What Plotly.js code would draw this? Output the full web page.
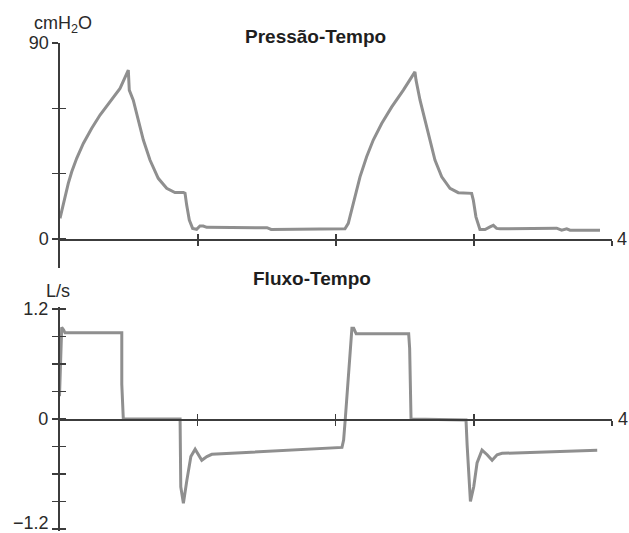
<!DOCTYPE html>
<html>
<head>
<meta charset="utf-8">
<script src="https://cdn.plot.ly/plotly-3.0.1.min.js"></script>
<style>html,body{margin:0;padding:0;background:#fff;}#chart{width:629px;height:533px;}</style>
</head>
<body>
<div id="chart"></div>
<script>
// Pressure-time (cmH2O) vs time (s)
var presTime = [0, 0.019, 0.036, 0.060, 0.085, 0.121, 0.169, 0.230, 0.290, 0.362, 0.435, 0.495,
  0.502, 0.531, 0.567, 0.604, 0.652, 0.712, 0.773, 0.833, 0.894, 0.906, 0.918, 0.937, 0.961, 0.990,
  1.014, 1.038, 1.063, 1.256, 1.500, 1.530, 1.884, 2.065,
  2.089, 2.114, 2.138, 2.174, 2.222, 2.270, 2.331, 2.404, 2.488, 2.572,
  2.580, 2.609, 2.645, 2.681, 2.717, 2.766, 2.826, 2.886, 2.983, 2.995, 3.014, 3.043, 3.080,
  3.116, 3.140, 3.164, 3.188, 3.599, 3.635, 3.672, 3.696, 3.913];
var presVal = [9.5, 14.8, 19.4, 25.6, 30.9, 37.1, 43.9, 50.9, 57.0, 63.0, 69.2, 77.6,
  68.4, 63.8, 54.6, 45.5, 36.3, 27.9, 23.3, 21.4, 21.4, 21.0, 15.6, 8.7, 4.9, 4.5,
  6.0, 6.0, 5.4, 5.4, 5.2, 4.4, 4.4, 4.7,
  7.2, 13.3, 19.4, 28.6, 37.8, 45.5, 53.1, 60.7, 68.4, 76.8,
  73.0, 63.8, 54.6, 45.5, 36.3, 28.6, 23.3, 21.3, 21.0, 17.9, 10.2, 4.4, 4.4,
  5.6, 6.3, 4.9, 4.7, 5.0, 4.1, 4.7, 4.1, 4.1];

// Flow-time (L/s) vs time (s)
var flowTime = [0, 0.016, 0.030, 0.040, 0.451, 0.451, 0.462, 0.873,
  0.878, 0.897, 0.922, 0.951, 0.982, 1.006, 1.030, 1.067, 1.103, 2.045, 2.057, 2.069,
  2.105, 2.117, 2.130, 2.148, 2.528, 2.535, 2.545, 2.943,
  2.951, 2.963, 2.975, 2.999, 3.023, 3.059, 3.096, 3.132, 3.168, 3.204, 3.893];
var flowVal = [0.25, 1.0, 0.97, 0.94, 0.94, 0.38, 0.0, 0.0,
  -0.74, -0.92, -0.67, -0.41, -0.33, -0.39, -0.45, -0.41, -0.385, -0.31, -0.23, 0.0,
  0.79, 0.99, 0.99, 0.93, 0.93, 0.77, 0.0, -0.01,
  -0.28, -0.63, -0.90, -0.74, -0.48, -0.34, -0.39, -0.45, -0.39, -0.375, -0.34];

// Axis ticks and labels
var timeTicks = [1, 2, 3, 4];
var presLabelVals = [0, 90];
var presLabelText = ['0', '90'];
var presMinorStep = 30;
var flowLabelVals = [0, 1.2];
var flowLabelText = ['0', '1.2'];
var flowLowVals = [-1.2];
var flowLowText = ['\u22121.2'];
var flowMinorStep = 0.3;
var titles = ['Pressão-Tempo', 'Fluxo-Tempo'];
var units = ['cmH<sub>2</sub>O', 'L/s'];
var endLabel = '4';

var W = 629, H = 533;
function px(x) { return x / W; }
function py(y) { return 1 - y / H; }

var lineCol = '#8f8f8f';
var axCol = '#3c3c3c';
var font = {family: 'Liberation Sans, Arial, sans-serif', size: 18, color: '#2a2a2a'};

var presRange = [-13.3, 90.3];
var presDom = [py(268), py(42.5)];
var flowRange = [-1.22, 1.22];
var flowDom = [py(530.8), py(307.2)];
var xDomTop = [px(60), px(612)];
var xDomBot = [px(59.5), px(612)];
function zeroPos(dom, rng) { return dom[0] + (0 - rng[0]) / (rng[1] - rng[0]) * (dom[1] - dom[0]); }
var topZero = zeroPos(presDom, presRange);
var botZero = zeroPos(flowDom, flowRange);

var traces = [
  {x: presTime, y: presVal, xaxis: 'x', yaxis: 'y', mode: 'lines', line: {color: lineCol, width: 3}, hoverinfo: 'skip'},
  {x: flowTime, y: flowVal, xaxis: 'x2', yaxis: 'y2', mode: 'lines', line: {color: lineCol, width: 3}, hoverinfo: 'skip'},
  {x: [null], y: [null], xaxis: 'x3', yaxis: 'y3', mode: 'lines', hoverinfo: 'skip'},
  {x: [null], y: [null], xaxis: 'x4', yaxis: 'y4', mode: 'lines', hoverinfo: 'skip'}
];

function xax(dom, pos, side) {
  return {domain: dom, range: [0, 4], anchor: 'free', position: pos, showline: side === 'outside',
    linecolor: axCol, linewidth: 1.6, ticks: side, ticklen: 5, tickwidth: 1.4, tickcolor: axCol,
    tickvals: timeTicks, showticklabels: false, showgrid: false, zeroline: false, fixedrange: true};
}
function yax(dom, rng, tv, tt, step, anchor, side, showLabels) {
  return {domain: dom, range: rng, anchor: anchor, showline: side === 'outside', linecolor: axCol,
    linewidth: 1.6, ticks: side, ticklen: 6, tickwidth: 1.4, tickcolor: axCol, tickvals: tv,
    ticktext: tt, showticklabels: showLabels, tickfont: font, ticklabeloverflow: 'allow',
    minor: {tick0: 0, dtick: step, ticks: side, ticklen: 6, tickwidth: 1.4, tickcolor: axCol, showgrid: false},
    showgrid: false, zeroline: false, fixedrange: true};
}

var y4 = yax(flowDom, flowRange, flowLowVals, flowLowText, flowMinorStep, 'x4', 'inside', true);
y4.overlaying = 'y2';
y4.ticklabelshift = -6;
y4.ticklabelstandoff = 10;

var layout = {
  width: W, height: H, margin: {l: 0, r: 0, t: 0, b: 0},
  paper_bgcolor: '#ffffff', plot_bgcolor: 'rgba(0,0,0,0)', showlegend: false, font: font,
  xaxis: xax(xDomTop, topZero, 'outside'),
  yaxis: yax(presDom, presRange, presLabelVals, presLabelText, presMinorStep, 'x', 'outside', true),
  xaxis2: xax(xDomBot, botZero, 'outside'),
  yaxis2: yax(flowDom, flowRange, flowLabelVals, flowLabelText, flowMinorStep, 'x2', 'outside', true),
  xaxis3: Object.assign(xax(xDomTop, topZero, 'inside'), {overlaying: 'x'}),
  yaxis3: Object.assign(yax(presDom, presRange, presLabelVals, presLabelText, presMinorStep, 'x3', 'inside', false), {overlaying: 'y'}),
  xaxis4: Object.assign(xax(xDomBot, botZero, 'inside'), {overlaying: 'x2'}),
  yaxis4: y4,
  annotations: [
    {text: '<b>' + titles[0] + '</b>', xref: 'paper', yref: 'paper', x: px(316), y: py(36), xanchor: 'center', yanchor: 'middle', showarrow: false, font: {family: font.family, size: 19, color: '#1e1e1e'}},
    {text: '<b>' + titles[1] + '</b>', xref: 'paper', yref: 'paper', x: px(312), y: py(278), xanchor: 'center', yanchor: 'middle', showarrow: false, font: {family: font.family, size: 19, color: '#1e1e1e'}},
    {text: units[0], xref: 'paper', yref: 'paper', x: px(32), y: py(24), xanchor: 'left', yanchor: 'middle', showarrow: false, font: font},
    {text: units[1], xref: 'paper', yref: 'paper', x: px(44), y: py(291), xanchor: 'left', yanchor: 'middle', showarrow: false, font: font},
    {text: endLabel, xref: 'paper', yref: 'paper', x: px(615), y: topZero, xanchor: 'left', yanchor: 'middle', showarrow: false, font: font},
    {text: endLabel, xref: 'paper', yref: 'paper', x: px(616), y: botZero, xanchor: 'left', yanchor: 'middle', showarrow: false, font: font}
  ]
};

Plotly.newPlot('chart', traces, layout, {staticPlot: true, displayModeBar: false});
</script>
</body>
</html>
